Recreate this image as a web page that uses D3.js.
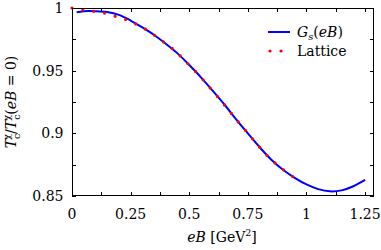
<!DOCTYPE html>
<html>
<head>
<meta charset="utf-8">
<script src="https://cdn.jsdelivr.net/npm/d3@7"></script>
<style>
  body { margin: 0; background: #fff; }
  text { font-family: "DejaVu Serif", serif; fill: #000; }
</style>
</head>
<body>
<svg width="381" height="250"></svg>
<script>
// G_s(eB) curve
const gsX = [0.02, 0.05, 0.1, 0.15, 0.2, 0.25, 0.3, 0.35, 0.4, 0.45, 0.5, 0.55, 0.6, 0.65, 0.7, 0.75, 0.8, 0.85, 0.9, 0.95, 1.0, 1.05, 1.1, 1.15, 1.2, 1.25];
const gsY = [0.9966, 0.9975, 0.9975, 0.9968, 0.9945, 0.990, 0.9845, 0.9785, 0.9715, 0.9638, 0.9545, 0.9447, 0.934, 0.923, 0.9112, 0.900, 0.889, 0.879, 0.871, 0.8645, 0.8592, 0.8555, 0.8537, 0.8545, 0.8578, 0.8628];

// lattice curve
const latX = [0, 0.046, 0.091, 0.137, 0.18, 0.223, 0.266, 0.307, 0.344, 0.383, 0.418, 0.453, 0.486, 0.518, 0.549, 0.579, 0.609, 0.639, 0.668, 0.696, 0.724, 0.754, 0.784, 0.814, 0.846, 0.88, 0.916, 0.953];
const latY = [1.0, 0.9984, 0.9974, 0.996, 0.9936, 0.9912, 0.9878, 0.9838, 0.9793, 0.9739, 0.9691, 0.9633, 0.9571, 0.9511, 0.9449, 0.9383, 0.9319, 0.9252, 0.9186, 0.912, 0.9058, 0.8992, 0.8925, 0.8859, 0.8797, 0.8741, 0.8689, 0.8641];

const xTicks = [0, 0.25, 0.5, 0.75, 1, 1.25];
const xTickLabels = ["0", "0.25", "0.5", "0.75", "1", "1.25"];
const xMinor = [0.125, 0.375, 0.625, 0.875, 1.125];
const yTicks = [0.85, 0.9, 0.95, 1];
const yTickLabels = ["0.85", "0.9", "0.95", "1"];
const yMinor = [0.875, 0.925, 0.975];

const svg = d3.select("svg");
const pLeft = 72, pRight = 374, pTop = 8, pBottom = 196;
const fs = 14;

const x = d3.scaleLinear().domain([0, 1.288]).range([pLeft, pRight]);
const y = d3.scaleLinear().domain([0.85, 1]).range([pBottom, pTop]);

const tickLen = 4;

// ticks, mirrored on all four sides, pointing inward
const xAll = xTicks.concat(xMinor);
const yAll = yTicks.concat(yMinor);
const ticks = svg.append("g").attr("stroke", "#000").attr("stroke-width", 1);
xAll.forEach(v => {
  const px = Math.round(x(v)) + 0.5;
  ticks.append("line").attr("x1", px).attr("x2", px).attr("y1", pBottom).attr("y2", pBottom - tickLen);
  ticks.append("line").attr("x1", px).attr("x2", px).attr("y1", pTop).attr("y2", pTop + tickLen);
});
yAll.forEach(v => {
  const py = Math.round(y(v)) + 0.5;
  ticks.append("line").attr("x1", pLeft).attr("x2", pLeft + tickLen).attr("y1", py).attr("y2", py);
  ticks.append("line").attr("x1", pRight).attr("x2", pRight - tickLen).attr("y1", py).attr("y2", py);
});

// tick labels
svg.append("g")
  .selectAll("text")
  .data(xTicks)
  .enter()
  .append("text")
  .attr("x", d => x(d))
  .attr("y", 218.5)
  .attr("text-anchor", "middle")
  .attr("font-size", fs)
  .text((d, i) => xTickLabels[i]);

svg.append("g")
  .selectAll("text")
  .data(yTicks)
  .enter()
  .append("text")
  .attr("x", 63.5)
  .attr("y", d => y(d) + 5)
  .attr("text-anchor", "end")
  .attr("font-size", fs)
  .text((d, i) => yTickLabels[i]);

// curves
const line = d3.line().curve(d3.curveCatmullRom);

svg.append("path")
  .attr("d", line(gsX.map((v, i) => [x(v), y(gsY[i])])))
  .attr("fill", "none")
  .attr("stroke", "#0000ff")
  .attr("stroke-width", 2);

svg.append("path")
  .attr("d", line(latX.map((v, i) => [x(v), y(latY[i])])))
  .attr("fill", "none")
  .attr("stroke", "#ff0000")
  .attr("stroke-width", 3.2)
  .attr("stroke-linecap", "round")
  .attr("stroke-dasharray", "0,11");

// frame
svg.append("rect")
  .attr("x", pLeft + 0.5)
  .attr("y", pTop + 0.5)
  .attr("width", pRight - pLeft - 1)
  .attr("height", pBottom - pTop - 1)
  .attr("fill", "none")
  .attr("stroke", "#000")
  .attr("stroke-width", 1);

// legend
svg.append("line")
  .attr("x1", 268).attr("x2", 290).attr("y1", 32).attr("y2", 32)
  .attr("stroke", "#0000ff").attr("stroke-width", 2);
const g1 = svg.append("text").attr("x", 297).attr("y", 37).attr("font-size", fs);
g1.append("tspan").attr("font-style", "italic").text("G");
g1.append("tspan").attr("font-style", "italic").attr("font-size", 10).attr("dy", 3).text("s");
g1.append("tspan").attr("dy", -3).text("(");
g1.append("tspan").attr("font-style", "italic").text("eB");
g1.append("tspan").text(")");

svg.append("line")
  .attr("x1", 270).attr("x2", 292).attr("y1", 51).attr("y2", 51)
  .attr("stroke", "#ff0000").attr("stroke-width", 3.2)
  .attr("stroke-linecap", "round").attr("stroke-dasharray", "0,11");
svg.append("text").attr("x", 297).attr("y", 56).attr("font-size", fs).text("Lattice");

// x axis title
const xt = svg.append("text").attr("x", 222).attr("y", 242).attr("text-anchor", "middle").attr("font-size", fs);
xt.append("tspan").attr("font-style", "italic").text("eB");
xt.append("tspan").text("  [GeV");
xt.append("tspan").attr("font-size", 9.5).attr("dy", -6).text("2");
xt.append("tspan").attr("dy", 6).text("]");

// y axis title
const yt = svg.append("text")
  .attr("transform", "translate(16,102) rotate(-90)")
  .attr("text-anchor", "middle")
  .attr("font-size", fs);
yt.append("tspan").attr("font-style", "italic").text("T");
yt.append("tspan").attr("font-size", 9.5).attr("dy", 4).text("c");
yt.append("tspan").attr("font-size", 9.5).attr("dx", -6).attr("dy", -10).text("χ");
yt.append("tspan").attr("dy", 6).text("/");
yt.append("tspan").attr("font-style", "italic").text("T");
yt.append("tspan").attr("font-size", 9.5).attr("dy", 4).text("c");
yt.append("tspan").attr("font-size", 9.5).attr("dx", -6).attr("dy", -10).text("χ");
yt.append("tspan").attr("dy", 6).text("(");
yt.append("tspan").attr("font-style", "italic").text("eB");
yt.append("tspan").text(" = 0)");
</script>
</body>
</html>
